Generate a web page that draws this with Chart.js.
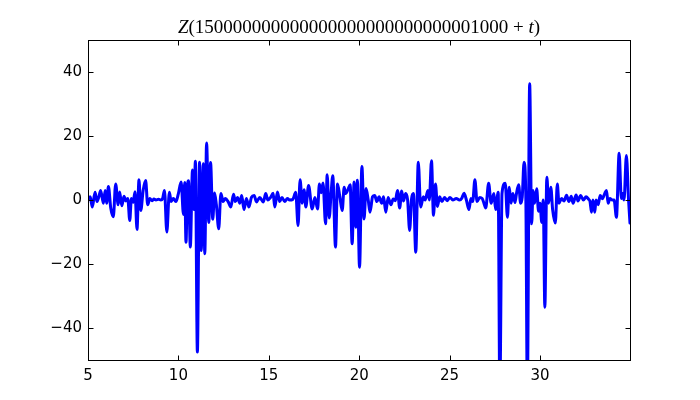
<!DOCTYPE html>
<html>
<head>
<meta charset="utf-8">
<script src="https://cdn.jsdelivr.net/npm/chart.js@4.4.1/dist/chart.umd.min.js"></script>
<style>
  html, body { margin: 0; padding: 0; background: #fff; }
</style>
</head>
<body>
<canvas id="zChart" width="700" height="400"></canvas>
<script>
// Data
const tValues = [
  5.00, 5.12, 5.24, 5.39, 5.50, 5.60, 5.70, 5.85, 5.95, 6.03,
  6.13, 6.26, 6.40, 6.53, 6.67, 6.75, 6.87, 6.99, 7.10, 7.20,
  7.31, 7.40, 7.50, 7.60, 7.71, 7.82, 7.92, 8.05, 8.19, 8.30,
  8.42, 8.55, 8.65, 8.76, 8.90, 9.03, 9.13, 9.23, 9.36, 9.50,
  9.60, 9.72, 9.86, 10.00, 10.15, 10.28, 10.35, 10.42, 10.50, 10.56,
  10.66, 10.78, 10.86, 10.94, 11.05, 11.17, 11.26, 11.38, 11.46, 11.56,
  11.68, 11.78, 11.90, 12.00, 12.10, 12.23, 12.35, 12.48, 12.60, 12.75,
  12.90, 13.05, 13.15, 13.27, 13.40, 13.50, 13.63, 13.76, 13.90, 14.04,
  14.19, 14.32, 14.50, 14.70, 14.83, 14.95, 15.10, 15.24, 15.33, 15.48,
  15.60, 15.73, 15.88, 16.03, 16.15, 16.33, 16.49, 16.62, 16.73, 16.85,
  16.95, 17.05, 17.20, 17.40, 17.55, 17.70, 17.80, 17.90, 18.00, 18.14,
  18.23, 18.34, 18.45, 18.54, 18.69, 18.80, 18.93, 19.06, 19.17, 19.25,
  19.39, 19.50, 19.61, 19.72, 19.81, 19.90, 20.02, 20.15, 20.27, 20.38,
  20.50, 20.60, 20.74, 20.86, 20.98, 21.10, 21.25, 21.35, 21.47, 21.60,
  21.76, 21.88, 22.00, 22.12, 22.24, 22.35, 22.45, 22.57, 22.68, 22.79,
  22.90, 23.00, 23.13, 23.27, 23.40, 23.55, 23.65, 23.80, 23.88, 24.00,
  24.11, 24.22, 24.33, 24.45, 24.58, 24.72, 24.87, 25.02, 25.18, 25.37,
  25.55, 25.68, 25.80, 25.93, 26.07, 26.18, 26.28, 26.40, 26.52, 26.67,
  26.80, 26.90, 27.00, 27.16, 27.30, 27.45, 27.55, 27.69, 27.78, 27.90,
  28.08, 28.20, 28.30, 28.40, 28.50, 28.62, 28.70, 28.82, 28.93, 29.02,
  29.12, 29.22, 29.30, 29.43, 29.54, 29.62, 29.70, 29.82, 29.92, 30.00,
  30.10, 30.18, 30.27, 30.38, 30.48, 30.60, 30.70, 30.85, 30.96, 31.05,
  31.20, 31.33, 31.47, 31.60, 31.73, 31.83, 32.00, 32.10, 32.25, 32.40,
  32.55, 32.68, 32.77, 32.85, 32.93, 33.03, 33.10, 33.22, 33.33, 33.45,
  33.58, 33.68, 33.77, 33.87, 34.00, 34.10, 34.23, 34.38, 34.50, 34.58,
  34.65, 34.78, 34.90, 34.98
];
const zValues = [
  0, 1, -2.2, 2.4, -0.5, 1, 3, -1, 3, -1,
  4.2, -2.6, -5.2, 5, -1.5, 2.5, -1.8, 1.2, -0.3, 0.5,
  -6.4, 0.5, -0.7, 2.6, -9.2, 6.3, -3.3, 3, 6.1, -1.5,
  0.5, -0.2, 0.3, 0, 0.2, 0, 0.5, 3, -10, 2.4,
  -0.5, 0.5, -0.5, 2, 5.6, -4.5, 5.5, -13.2, 4, 6,
  -14.7, 9.4, -3, 12.1, -47.5, 11.8, -15.8, 11.3, -16.8, 17.8,
  -7, 11.7, -6, 2.2, -1.5, -9, 2, -0.5, 0.5, -0.5,
  -2.2, 1.8, -0.5, 0.8, -1, 1.4, -3, 0.5, -2.2, 0.8,
  1.4, -0.6, 0.8, -0.6, 2, 0, 0.8, 2.1, -2.2, 2.5,
  -0.5, 0.8, -0.5, 0.5, 0, 0.2, 2.4, -8, 6.3, -1,
  3.2, -2.2, 4.5, -2.8, 0.8, -2.8, 5, 2.3, 5.3, -7.4,
  7.9, -5.6, 2.4, 7.6, -14.7, 5, 1, -3.3, 4, 2,
  3.4, 4.8, -13.7, 5.6, -8.5, 6.2, -21, 10.5, -5.9, 3.6,
  0, -3.8, 1, 1.4, -0.5, 1, -1, 1, -3.8, 0.8,
  -1.5, 0.3, -0.2, 3, -2.5, 2.8, -0.3, 2, 0, -9.5,
  0.5, 2, -16.3, 11.8, -2.2, 1, 0, 3, 0, 12.3,
  -4.8, 5, -2, 1, -0.5, 0.8, -0.2, 0.8, 0, 0.5,
  0, 0.6, 2.1, 0, -3, 0.5, -0.5, 6.3, -0.5, 0.8,
  0.5, -1, -2.5, 5.2, -1, 2, -3, 2.4, -60, 2,
  5.2, -5.4, 4, -1, 2, -0.8, 2, 4.8, -1, 1,
  11.8, 0, -60, 36.3, -7.4, 3, -1, 3.5, -3.5, -1,
  -7, 0, -33.5, 7.1, -1, 4, -3, -7.2, 5, -1,
  0.5, -0.3, 1.5, -0.5, 1.2, -1, 1.6, -0.3, 1.4, 0,
  1, 0.3, -0.5, -3.8, 0, -3.8, 0, -1.5, 1.4, 0.4,
  2, 3, -1, 0.5, 0, 0, -5.4, 14.6, 0.5, 2,
  0, 13.9, 0, -7.2
];
const xTicks = [5, 10, 15, 20, 25, 30];
const yTicks = [-40, -20, 0, 20, 40];
const titleParts = [
  { text: "Z", italic: true },
  { text: "(" + "15" + "000000000" + "000000000" + "000000000" + "1000", italic: false },
  { text: " + ", italic: false },
  { text: "t", italic: true },
  { text: ")", italic: false },
];

const tickFont = { family: "DejaVu Sans", size: 15 };

// Frame, inward ticks on all four sides, and the math-style title
const framePlugin = {
  id: "frame",
  afterDraw(chart) {
    const { ctx, chartArea: a, scales } = chart;
    const left = Math.round(a.left) + 0.5;
    const right = Math.round(a.right) + 0.5;
    const top = Math.round(a.top) + 0.5;
    const bottom = Math.round(a.bottom) + 0.5;
    ctx.save();
    ctx.strokeStyle = "#000";
    ctx.lineWidth = 1;
    ctx.beginPath();
    xTicks.forEach((v) => {
      const px = Math.round(scales.x.getPixelForValue(v)) + 0.5;
      ctx.moveTo(px, bottom);
      ctx.lineTo(px, bottom - 5);
      ctx.moveTo(px, top);
      ctx.lineTo(px, top + 5);
    });
    yTicks.forEach((v) => {
      const py = Math.round(scales.y.getPixelForValue(v)) + 0.5;
      ctx.moveTo(left, py);
      ctx.lineTo(left + 5, py);
      ctx.moveTo(right, py);
      ctx.lineTo(right - 5, py);
    });
    ctx.stroke();
    ctx.strokeRect(left, top, right - left, bottom - top);

    // title
    ctx.fillStyle = "#000";
    ctx.textBaseline = "alphabetic";
    const fontFor = (p) =>
      (p.italic ? "italic " : "") + "19px 'Liberation Serif'";
    let total = 0;
    titleParts.forEach((p) => {
      ctx.font = fontFor(p);
      total += ctx.measureText(p.text).width;
    });
    let x = (a.left + a.right) / 2 - total / 2;
    titleParts.forEach((p) => {
      ctx.font = fontFor(p);
      ctx.fillText(p.text, x, 33);
      x += ctx.measureText(p.text).width;
    });
    ctx.restore();
  },
};

new Chart(document.getElementById("zChart"), {
  type: "line",
  data: {
    datasets: [
      {
        data: tValues.map((t, i) => ({ x: t, y: zValues[i] })),
        borderColor: "#0000ff",
        borderWidth: 3,
        borderJoinStyle: "round",
        borderCapStyle: "round",
        pointRadius: 0,
        cubicInterpolationMode: "monotone",
        fill: false,
      },
    ],
  },
  options: {
    responsive: false,
    animation: false,
    devicePixelRatio: 1,
    layout: { padding: { top: 40, right: 70, bottom: 0, left: 0 } },
    plugins: {
      legend: { display: false },
      title: { display: false },
      tooltip: { enabled: false },
    },
    scales: {
      x: {
        type: "linear",
        min: 5,
        max: 34.98,
        afterBuildTicks: (s) => {
          s.ticks = xTicks.map((v) => ({ value: v }));
        },
        afterFit: (s) => {
          s.height = 40;
        },
        grid: { display: false, drawTicks: false },
        border: { display: false },
        ticks: {
          font: tickFont,
          color: "#000",
          padding: 7,
          maxRotation: 0,
          autoSkip: false,
        },
      },
      y: {
        min: -50,
        max: 50,
        afterBuildTicks: (s) => {
          s.ticks = yTicks.map((v) => ({ value: v }));
        },
        afterFit: (s) => {
          s.width = 88;
        },
        grid: { display: false, drawTicks: false },
        border: { display: false },
        ticks: {
          font: tickFont,
          color: "#000",
          padding: 6,
          callback: (v) => (v < 0 ? "\u2212" + Math.abs(v) : String(v)),
        },
      },
    },
  },
  plugins: [framePlugin],
});
</script>
</body>
</html>
